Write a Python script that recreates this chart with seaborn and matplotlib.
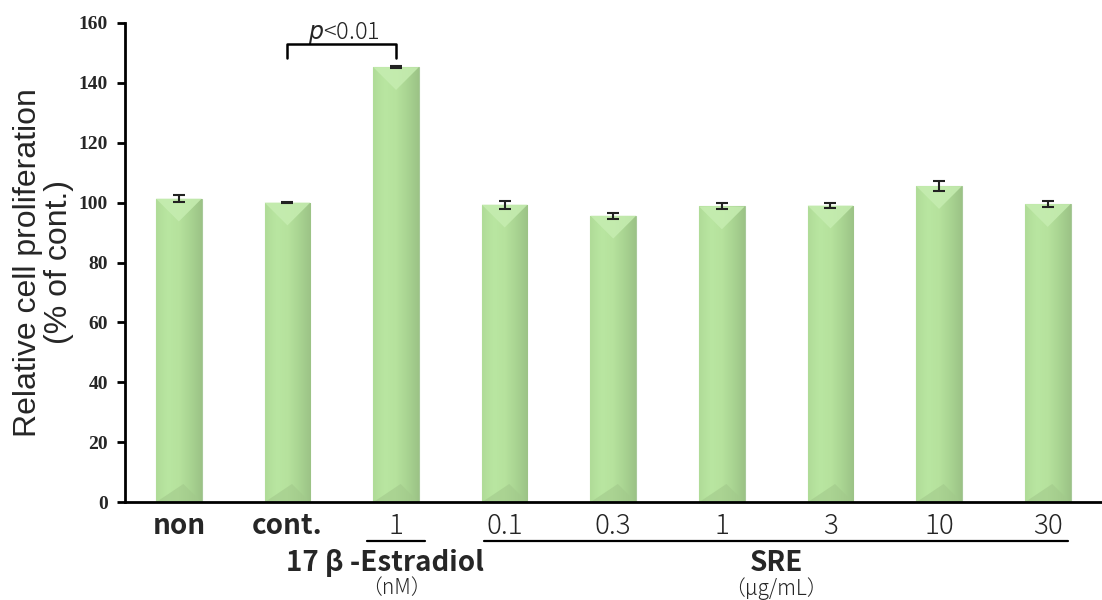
import numpy as np
import pandas as pd
import matplotlib
matplotlib.use("Agg")
import matplotlib.pyplot as plt
import matplotlib.transforms as mtransforms
from matplotlib.colors import LinearSegmentedColormap
from matplotlib.patches import Polygon
import seaborn as sns

# data
conditions = ["non", "cont.", "E2 1", "SRE 0.1", "SRE 0.3", "SRE 1", "SRE 3", "SRE 10", "SRE 30"]
tick_labels = ["non", "cont.", "1", "0.1", "0.3", "1", "3", "10", "30"]
means = [101.3, 100.0, 145.2, 99.3, 95.6, 98.7, 99.0, 105.5, 99.5]
errors = [1.2, 0.2, 0.4, 1.3, 1.0, 1.0, 0.9, 1.6, 1.1]

sns.set_style("ticks")
plt.rcParams["font.family"] = ["Noto Sans CJK JP", "DejaVu Sans"]

df = pd.DataFrame({"condition": conditions, "value": means})

fig = plt.figure(figsize=(11.02, 6.0), dpi=100)
ax = fig.add_axes([0.113, 0.163, 0.887, 0.799])

sns.barplot(data=df, x="condition", y="value", color="#b4e09b", saturation=1,
            width=0.42, edgecolor="#a8c99a", linewidth=0.8, ax=ax)

ax.set_xlim(-0.5, 8.5)
ax.set_ylim(0, 160)
ax.set_yticks(range(0, 161, 20))

# shading: horizontal gradient + bevelled top and bottom, like the office-style bars
grad_cmap = LinearSegmentedColormap.from_list(
    "bar", ["#b0dc98", "#b9e6a1", "#b6e29d", "#a9d492", "#9cc386"])
grad = np.linspace(0, 1, 64).reshape(1, -1)
bars = list(ax.patches)
fig.canvas.draw()
px_x = ax.bbox.width / 9.0
px_y = ax.bbox.height / 160.0
for p in bars:
    x0, w, h = p.get_x(), p.get_width(), p.get_height()
    im = ax.imshow(grad, cmap=grad_cmap, extent=[x0, x0 + w, 0, h],
                   aspect="auto", zorder=p.get_zorder() + 0.1)
    im.set_clip_path(p)
    depth = (w * px_x / 2) / px_y
    xc = x0 + w / 2
    ax.add_patch(Polygon([(x0, h), (x0 + w, h), (xc, h - depth)],
                         closed=True, facecolor="#c6edb1", edgecolor="none",
                         alpha=0.85, zorder=p.get_zorder() + 0.2))
    ax.add_patch(Polygon([(x0, 0), (x0 + w, 0), (xc + w * 0.1, depth * 0.8)],
                         closed=True, facecolor="#a2c98b", edgecolor="none",
                         alpha=0.6, zorder=p.get_zorder() + 0.2))
ax.set_xlim(-0.5, 8.5)
ax.set_ylim(0, 160)

xs = [p.get_x() + p.get_width() / 2 for p in bars]
ax.errorbar(xs, means, yerr=errors, fmt="none", ecolor="#222222",
            elinewidth=1.5, capsize=4, capthick=1.5, zorder=6)

sns.despine(ax=ax)
for side in ["left", "bottom"]:
    ax.spines[side].set_linewidth(2)
    ax.spines[side].set_color("black")

ax.tick_params(axis="y", direction="out", length=6, width=2, color="black", pad=6)
ax.tick_params(axis="x", length=0, pad=7)
for lab in ax.get_yticklabels():
    lab.set_family("Liberation Serif")
    lab.set_fontweight("bold")
    lab.set_fontsize(14)

ax.set_xticks(range(len(tick_labels)))
ax.set_xticklabels(tick_labels, fontsize=20, fontweight="light")
for i, lab in enumerate(ax.get_xticklabels()):
    if i < 2:
        lab.set_fontweight("bold")
ax.set_xlabel("")

ax.set_ylabel("Relative cell proliferation\n(% of cont.)", fontsize=23,
              family="Liberation Sans", labelpad=3, linespacing=1.05)

# group annotations under the axis
trans = mtransforms.blended_transform_factory(ax.transData, ax.transAxes)
ax.plot([1.73, 2.27], [-0.081, -0.081], transform=trans, color="black",
        lw=1.6, clip_on=False)
ax.plot([2.81, 8.19], [-0.081, -0.081], transform=trans, color="black",
        lw=1.6, clip_on=False)
ax.text(1.9, -0.126, "17 β -Estradiol", transform=trans, ha="center",
        va="center", fontsize=20, fontweight="bold")
ax.text(2.0, -0.18, "（nM）", transform=trans, ha="center", va="center",
        fontsize=15, fontweight="light")
ax.text(5.5, -0.126, "SRE", transform=trans, ha="center", va="center",
        fontsize=20, fontweight="bold")
ax.text(5.5, -0.18, "（μg/mL）", transform=trans, ha="center", va="center",
        fontsize=15, fontweight="light")

# significance bracket between cont. and estradiol
ax.plot([1, 1, 2, 2], [148.3, 153, 153, 148.3], color="black", lw=1.8,
        clip_on=False, zorder=6)
ax.text(1.52, 156.5, "$\\it{p}$<0.01", ha="center", va="center", fontsize=17,
        fontweight="light")

fig.savefig("out.png", dpi=100)
